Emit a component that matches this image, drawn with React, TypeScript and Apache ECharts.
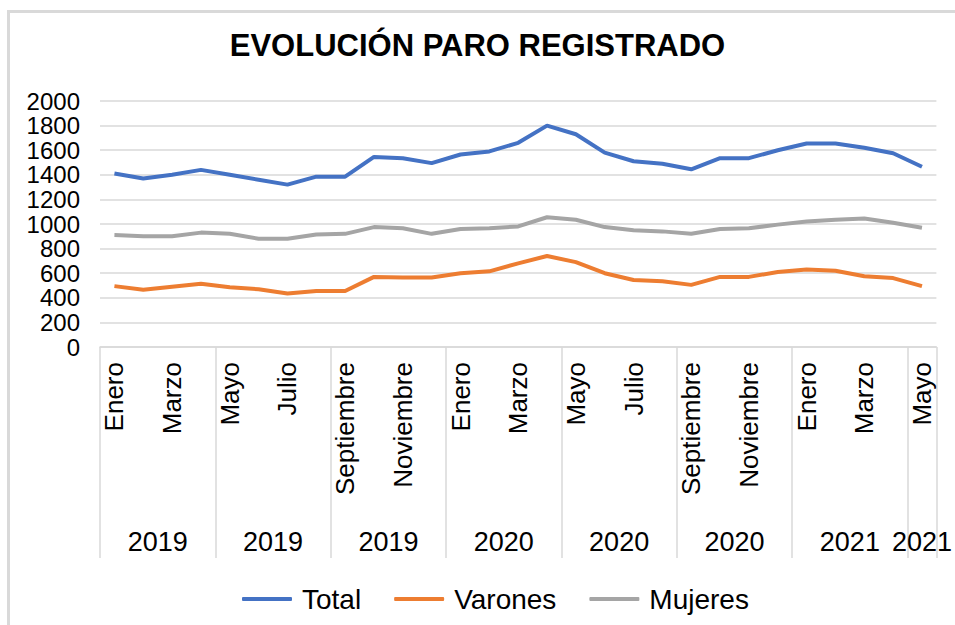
import React, { useEffect, useRef } from "react";
import * as echarts from "echarts";

const months = [
  "Enero", "Febrero", "Marzo", "Abril", "Mayo", "Junio", "Julio", "Agosto",
  "Septiembre", "Octubre", "Noviembre", "Diciembre",
  "Enero", "Febrero", "Marzo", "Abril", "Mayo", "Junio", "Julio", "Agosto",
  "Septiembre", "Octubre", "Noviembre", "Diciembre",
  "Enero", "Febrero", "Marzo", "Abril", "Mayo",
];

const total = [
  1410, 1370, 1400, 1440, 1400, 1360, 1320, 1385, 1385, 1545, 1535, 1495,
  1565, 1590, 1660, 1800, 1730, 1580, 1510, 1490, 1445, 1535, 1535, 1600,
  1655, 1655, 1620, 1575, 1465,
];
const varones = [
  495, 465, 490, 515, 485, 470, 435, 455, 455, 570, 565, 565,
  600, 615, 680, 740, 690, 600, 545, 535, 505, 570, 570, 610,
  630, 620, 575, 560, 495,
];
const mujeres = [
  910, 900, 900, 930, 920, 880, 880, 915, 920, 975, 965, 920,
  960, 965, 980, 1055, 1035, 975, 950, 940, 920, 960, 965, 995,
  1020, 1035, 1045, 1010, 970,
];

const yearGroups = ["2019", "2019", "2019", "2020", "2020", "2020", "2021", "2021"];
const groupSizes = [4, 4, 4, 4, 4, 4, 4, 1];

const yTicks = { min: 0, max: 2000, interval: 200 };

export default function App() {
  const ref = useRef<HTMLDivElement>(null);

  useEffect(() => {
    if (!ref.current) return;
    const chart = echarts.init(ref.current, null, { renderer: "svg" });

    const boundaries: number[] = [0];
    const centers: number[] = [];
    const centerLabel: Record<string, string> = {};
    groupSizes.forEach((s, i) => {
      const start = boundaries[boundaries.length - 1];
      const c = start + s / 2;
      centers.push(c);
      centerLabel[String(c)] = yearGroups[i];
      boundaries.push(start + s);
    });

    const font = "Liberation Sans, Arial, sans-serif";
    const grid = "#d9d9d9";

    chart.setOption({
      animation: false,
      backgroundColor: "#ffffff",
      textStyle: { fontFamily: font },
      title: {
        text: "EVOLUCIÓN PARO REGISTRADO",
        left: "center",
        top: 25,
        textStyle: { fontSize: 31, fontWeight: "bold", color: "#000", fontFamily: font },
      },
      graphic: [
        {
          type: "rect",
          shape: { x: 8.5, y: 11.5, width: 1000, height: 1000 },
          style: { fill: "none", stroke: grid, lineWidth: 3 },
          silent: true,
        },
      ],
      legend: {
        left: 237,
        top: 580,
        itemWidth: 50,
        itemHeight: 4,
        itemGap: 33,
        icon: "roundRect",
        textStyle: { fontSize: 28, color: "#000", fontFamily: font, padding: [0, 0, 0, 5] },
        data: ["Total", "Varones", "Mujeres"],
      },
      grid: { left: 100, right: 14, top: 101, bottom: 278 },
      xAxis: [
        {
          type: "category",
          data: months,
          boundaryGap: true,
          axisLine: { lineStyle: { color: grid, width: 1.5 } },
          axisTick: { show: false },
          axisLabel: {
            interval: 1,
            rotate: 90,
            margin: 15,
            fontSize: 26,
            color: "#000",
            fontFamily: font,
          },
        },
        {
          type: "value",
          position: "bottom",
          min: 0,
          max: boundaries[boundaries.length - 1],
          axisLine: { show: false },
          splitLine: { show: false },
          axisTick: {
            show: true,
            customValues: boundaries,
            length: 211,
            lineStyle: { color: grid, width: 1.5 },
          },
          axisLabel: {
            customValues: centers,
            formatter: (v: number) => centerLabel[String(v)] ?? "",
            margin: 181,
            fontSize: 27,
            color: "#000",
            fontFamily: font,
          },
        },
      ],
      yAxis: {
        type: "value",
        min: yTicks.min,
        max: yTicks.max,
        interval: yTicks.interval,
        axisLine: { show: false },
        axisTick: { show: false },
        splitLine: { lineStyle: { color: grid, width: 1.5 } },
        axisLabel: {
          fontSize: 24,
          color: "#000",
          margin: 20,
          fontFamily: font,
          formatter: (v: number) => String(v),
        },
      },
      series: [
        {
          name: "Total",
          type: "line",
          data: total,
          symbol: "none",
          lineStyle: { width: 4, color: "#4472C4" },
          itemStyle: { color: "#4472C4" },
        },
        {
          name: "Varones",
          type: "line",
          data: varones,
          symbol: "none",
          lineStyle: { width: 4, color: "#ED7D31" },
          itemStyle: { color: "#ED7D31" },
        },
        {
          name: "Mujeres",
          type: "line",
          data: mujeres,
          symbol: "none",
          lineStyle: { width: 4, color: "#A5A5A5" },
          itemStyle: { color: "#A5A5A5" },
        },
      ],
    });

    return () => chart.dispose();
  }, []);

  return (
    <div
      ref={ref}
      style={{ position: "fixed", left: 0, top: 0, width: 955, height: 625 }}
    />
  );
}
